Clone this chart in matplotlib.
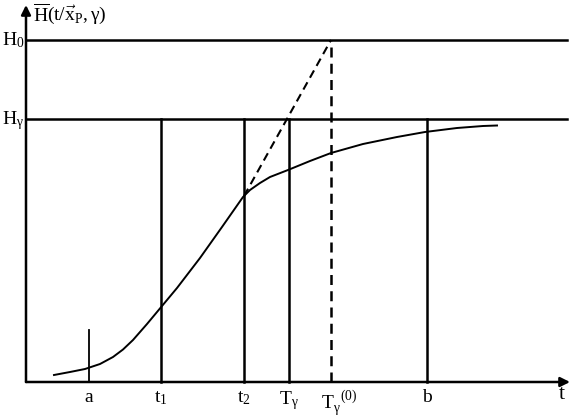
import matplotlib
matplotlib.use("Agg")
import matplotlib.pyplot as plt

plt.rcParams['font.family'] = ['Liberation Serif', 'DejaVu Serif']
plt.rcParams['mathtext.fontset'] = 'custom'
plt.rcParams['mathtext.rm'] = 'Liberation Serif'
plt.rcParams['mathtext.it'] = 'Liberation Serif'

# data (origin at axes corner)
curve_t = [28, 44, 59, 74, 87, 97, 107, 121, 136, 151, 174, 196, 217, 224, 234, 244, 262, 284, 305, 337, 371, 399, 431, 457, 471]
curve_H = [7, 10, 13, 18, 25, 32.5, 42, 58, 76, 94, 124, 155, 185, 192, 199, 205, 212, 221, 229, 238, 245, 250, 254, 256, 256.5]
H0 = 342
Hg = 263
t_a, t_1, t_2, T_g, T_g0, t_b = 63, 135, 218, 263, 305, 401
a_height = 52
t_end = 541
y_end = 377
tangent_start_H = 186
tick_labels = ['a', r'$\mathrm{t}_1$', r'$\mathrm{t}_2$', r'$\mathrm{T}_\gamma$', r'$\mathrm{T}_\gamma^{\ \ (0)}$', 'b']

fig = plt.figure(figsize=(5.7, 4.2), dpi=100)
ax = fig.add_axes([0, 0, 1, 1])
ax.set_xlim(-26, 544)
ax.set_ylim(-38, 382)
ax.axis('off')

lw = 1.8
# axes with arrows
ax.annotate('', xy=(t_end + 3, 0), xytext=(0, 0),
            arrowprops=dict(arrowstyle='-|>', lw=lw, color='black', mutation_scale=14, shrinkA=0, shrinkB=0))
ax.annotate('', xy=(0, y_end), xytext=(0, 0),
            arrowprops=dict(arrowstyle='-|>', lw=lw, color='black', mutation_scale=14, shrinkA=0, shrinkB=0))

# horizontal levels
ax.plot([0, t_end], [H0, H0], color='black', lw=lw)
ax.plot([0, t_end], [Hg, Hg], color='black', lw=lw)

# verticals
ax.plot([t_a, t_a], [0, a_height], color='black', lw=1.3)
for t in (t_1, t_2, T_g, t_b):
    ax.plot([t, t], [0, Hg], color='black', lw=lw)
ax.plot([T_g0, T_g0], [0, H0], color='black', lw=lw, ls=(0, (4, 2.5)))

# tangent
ax.plot([t_2, T_g0], [tangent_start_H, H0], color='black', lw=1.5, ls=(0, (4, 2.5)))

# curve
ax.plot(curve_t, curve_H, color='black', lw=1.4, solid_joinstyle='round')

# tick labels
offsets = [0, 0, 0, 0, 8, 0]
for t, lab, off in zip((t_a, t_1, t_2, T_g, T_g0, t_b), tick_labels, offsets):
    ax.text(t + off, -7, lab, ha='center', va='top', fontsize=14)
ax.text(536, -3, 't', ha='center', va='top', fontsize=16)

ax.text(-24, H0, r'$\mathrm{H}_0$', ha='left', va='center', fontsize=14)
ax.text(-24, Hg - 2, r'$\mathrm{H}_\gamma$', ha='left', va='center', fontsize=14)
ax.text(7, 368, r'$\overline{\mathrm{H}}(\mathrm{t}/\vec{\mathrm{x}}_{\mathrm{P}},\gamma)$', ha='left', va='center', fontsize=14)

fig.savefig('out.png', dpi=100)
